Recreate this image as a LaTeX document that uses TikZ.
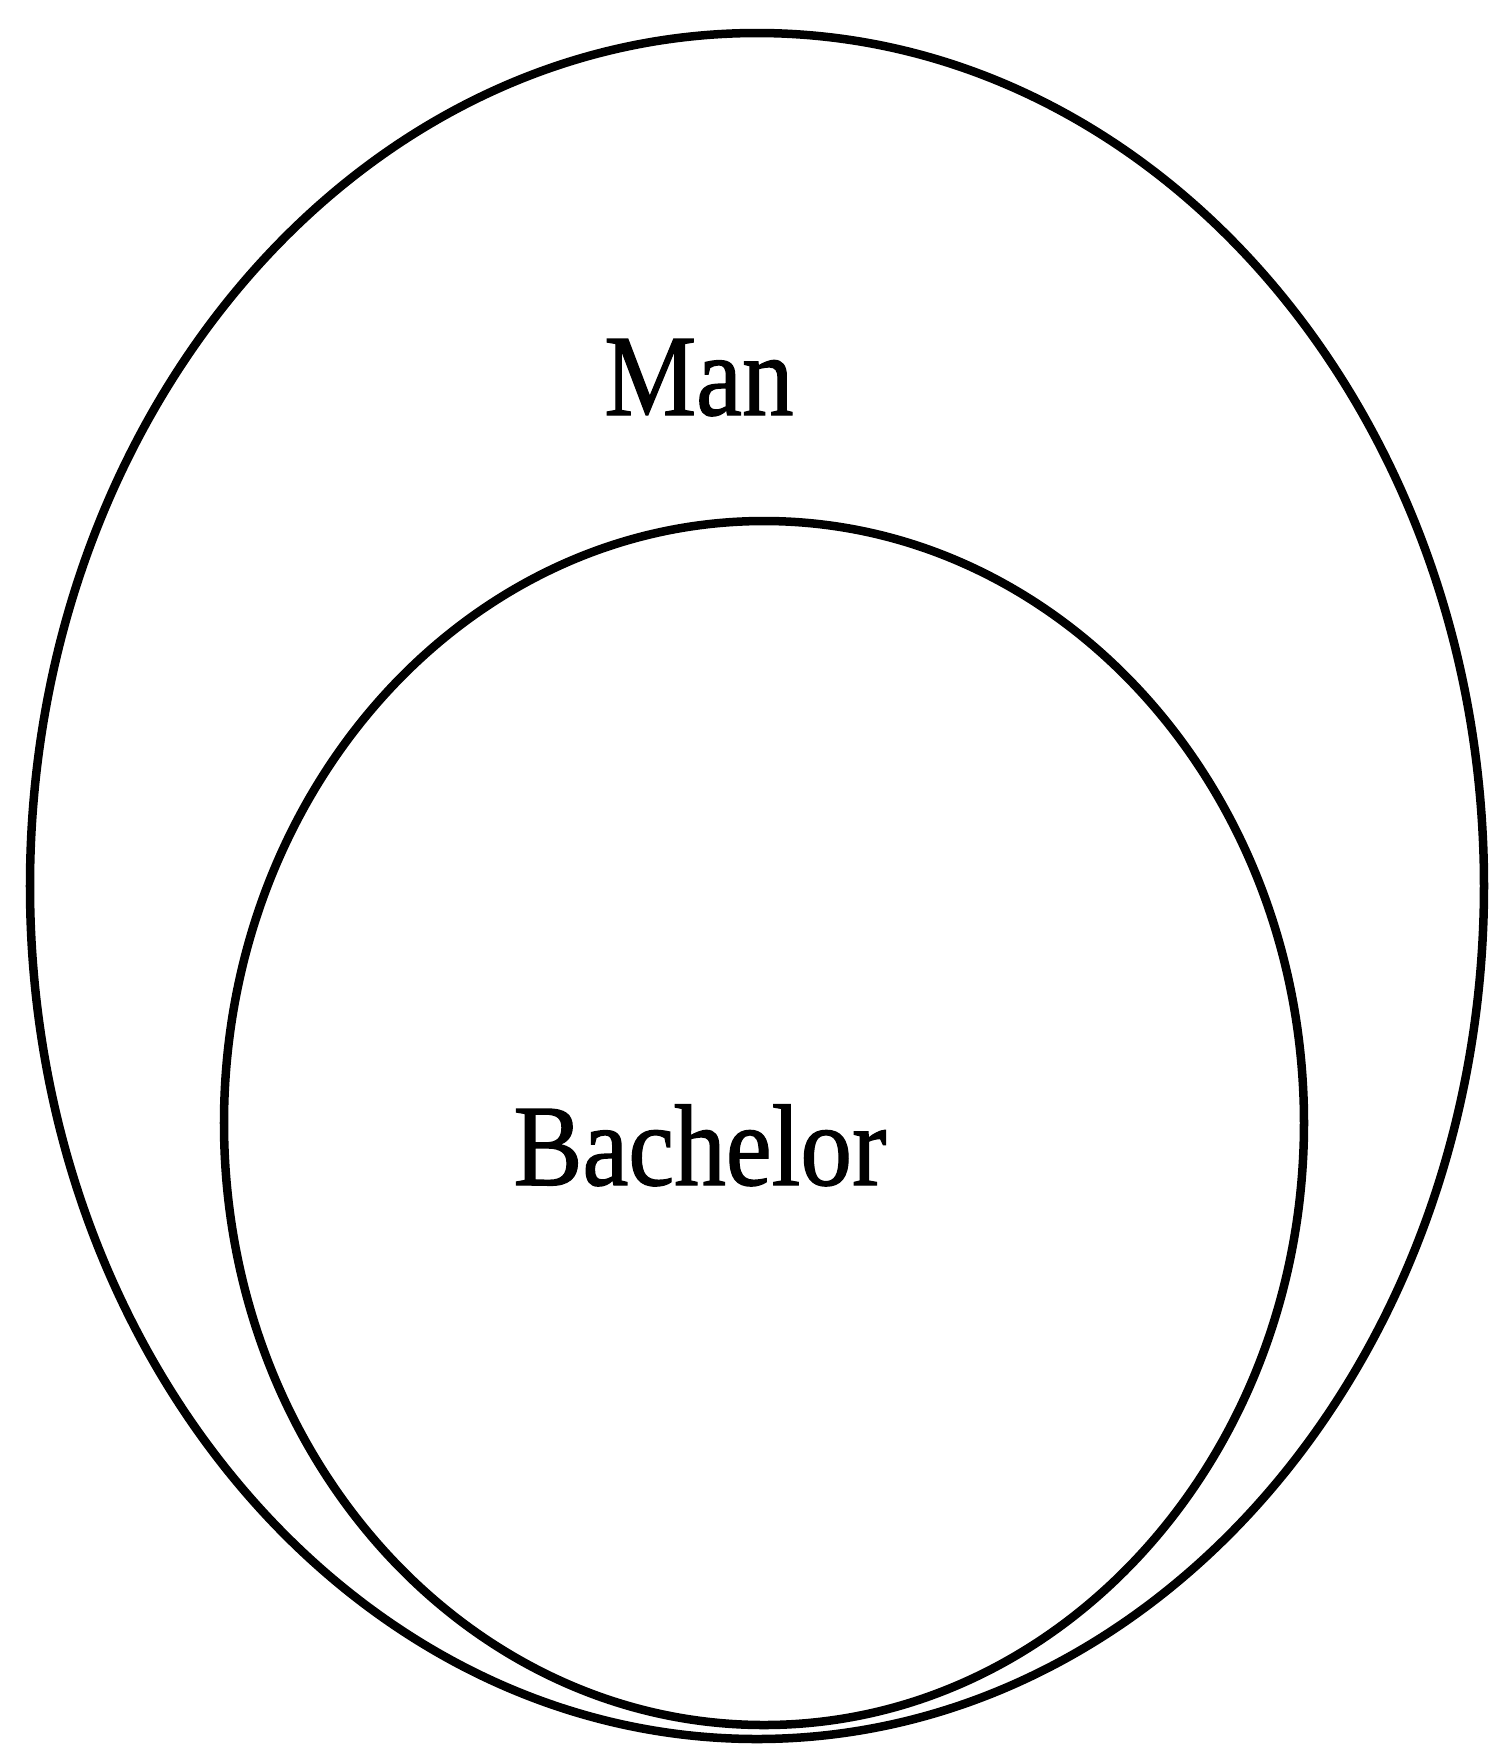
\documentclass[tikz,border=0pt]{standalone}
\usepackage{fontspec}
\setmainfont{Liberation Serif}
\begin{document}
\begin{tikzpicture}[x=0.01cm,y=-0.01cm, every node/.style={font=\fontsize{33}{40}\selectfont\addfontfeature{FakeBold=1.2}, xscale=0.89, anchor=base}, set/.style={line width=0.085cm}]
\useasboundingbox (0,0) rectangle (1491,1747);
\draw[set] (757,886) ellipse [x radius=727, y radius=853];
\draw[set] (764,1123) ellipse [x radius=540, y radius=602];
\node (man) at (699,415) {Man};
\node (bachelor) at (700,1185) {Bachelor};
\end{tikzpicture}
\end{document}
